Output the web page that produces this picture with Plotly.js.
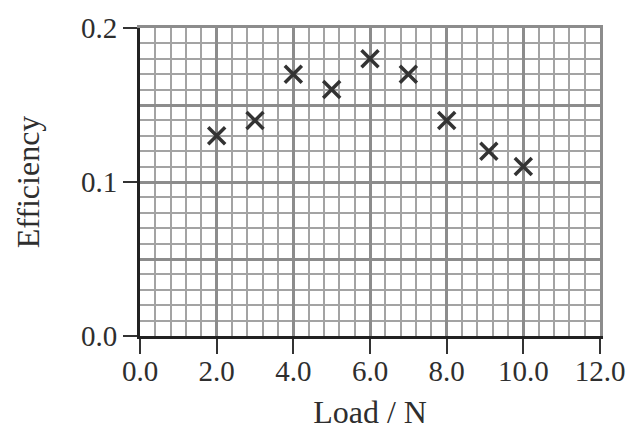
<!DOCTYPE html>
<html>
<head>
<meta charset="utf-8">
<script src="https://cdn.plot.ly/plotly-3.0.1.min.js"></script>
<style>html,body{margin:0;padding:0;background:#fff;}#chart{width:629px;height:430px;}</style>
</head>
<body>
<div id="chart"></div>
<script>
const loadN = [2.0, 3.0, 4.0, 5.0, 6.0, 7.0, 8.0, 9.1, 10.0];
const efficiency = [0.13, 0.14, 0.17, 0.16, 0.18, 0.17, 0.14, 0.12, 0.11];
const xTitle = 'Load / N';
const yTitle = 'Efficiency';

const fam = '"Liberation Serif", "Times New Roman", serif';
const tickFont = {family: fam, size: 29, color: '#2e2e2e'};
const titleFont = {family: fam, size: 32, color: '#2e2e2e'};

const trace = {
  x: loadN, y: efficiency, type: 'scatter', mode: 'markers',
  xaxis: 'x', yaxis: 'y',
  marker: {symbol: 'x-thin-open', size: 17, line: {width: 3.5, color: '#333'}, color: '#333'},
  hoverinfo: 'skip'
};
const yLabelAxisTrace = {x: [], y: [], type: 'scatter', mode: 'markers', xaxis: 'x', yaxis: 'y2', hoverinfo: 'skip'};
const xLabelAxisTrace = {x: [], y: [], type: 'scatter', mode: 'markers', xaxis: 'x2', yaxis: 'y', hoverinfo: 'skip'};

const gridMajor = '#8c8c8c', gridMinor = '#a3a3a3';

const layout = {
  width: 629, height: 430,
  margin: {l: 140, r: 29, t: 28, b: 94},
  paper_bgcolor: '#fff', plot_bgcolor: '#fff',
  font: tickFont,
  showlegend: false,
  xaxis: {
    range: [0, 12], dtick: 2, tick0: 0,
    showticklabels: false, ticks: '',
    showgrid: true, gridcolor: gridMajor, gridwidth: 3,
    minor: {dtick: 0.4, tick0: 0, showgrid: true, gridcolor: gridMinor, gridwidth: 2, ticks: ''},
    zeroline: false,
    showline: true, mirror: true, linecolor: gridMajor, linewidth: 3,
    fixedrange: true
  },
  xaxis2: {
    overlaying: 'x', side: 'bottom', anchor: 'y',
    range: [0, 12], dtick: 2, tick0: 0, tickformat: '.1f',
    showgrid: false, zeroline: false,
    showline: true, linecolor: '#222', linewidth: 3,
    ticks: 'outside', ticklen: 15, tickwidth: 2, tickcolor: '#333',
    ticklabelstandoff: -8,
    tickfont: tickFont,
    title: {text: xTitle, font: titleFont, standoff: 24},
    fixedrange: true
  },
  yaxis: {
    range: [0, 0.2], dtick: 0.05, tick0: 0,
    showticklabels: false, ticks: '',
    showgrid: true, gridcolor: gridMajor, gridwidth: 3,
    minor: {dtick: 0.01, tick0: 0, showgrid: true, gridcolor: gridMinor, gridwidth: 2, ticks: ''},
    zeroline: false,
    showline: true, mirror: true, linecolor: gridMajor, linewidth: 3,
    fixedrange: true
  },
  yaxis2: {
    overlaying: 'y', side: 'left', anchor: 'x',
    range: [0, 0.2], dtick: 0.1, tick0: 0, tickformat: '.1f',
    showgrid: false, zeroline: false,
    showline: true, linecolor: '#222', linewidth: 3,
    ticks: 'outside', ticklen: 14, tickwidth: 2, tickcolor: '#333',
    tickfont: tickFont,
    title: {text: yTitle, font: titleFont, standoff: 32},
    fixedrange: true
  }
};

Plotly.newPlot('chart', [trace, yLabelAxisTrace, xLabelAxisTrace], layout, {displayModeBar: false, staticPlot: true});
</script>
</body>
</html>
